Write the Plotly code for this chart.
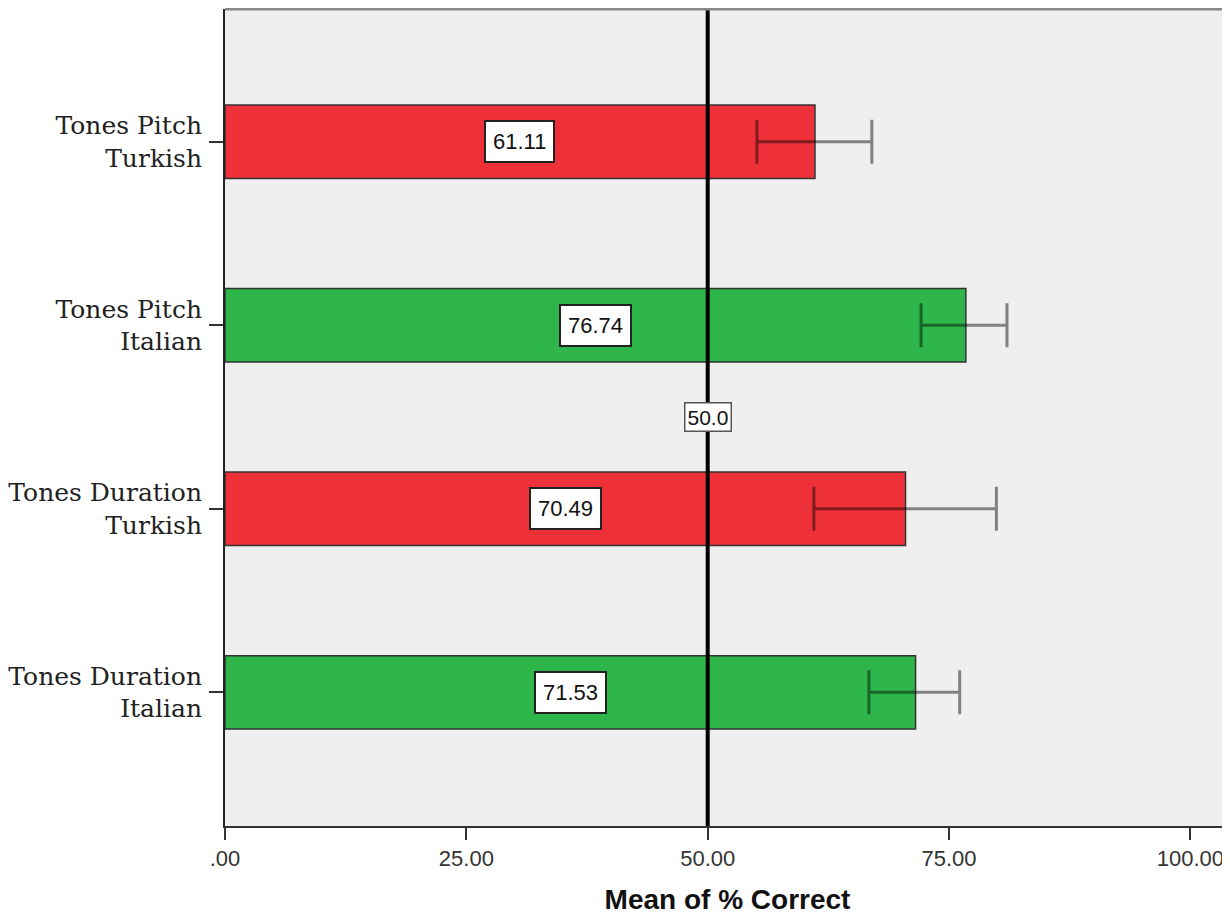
import plotly.graph_objects as go

categories = ["Tones Pitch<br>Turkish", "Tones Pitch<br>Italian",
              "Tones Duration<br>Turkish", "Tones Duration<br>Italian"]
means = [61.11, 76.74, 70.49, 71.53]
ci_low = [55.1, 72.1, 61.0, 66.7]
ci_high = [67.0, 81.0, 79.9, 76.1]
bar_colors = ["#EE3039", "#2FB64A", "#EE3039", "#2FB64A"]
x_tickvals = [0, 25, 50, 75, 100]
x_ticktext = [".00", "25.00", "50.00", "75.00", "100.00"]
ref_value = 50.0

positions = [3, 2, 1, 0]

fig = go.Figure()
fig.add_trace(go.Bar(
    x=means, y=positions, orientation="h", width=0.4,
    marker=dict(color=bar_colors, line=dict(color="#333333", width=1.5)),
    error_x=dict(type="data", symmetric=False,
                 array=[h - m for h, m in zip(ci_high, means)],
                 arrayminus=[m - l for m, l in zip(means, ci_low)],
                 color="rgba(0,0,0,0.46)", thickness=3, width=22),
    showlegend=False, hoverinfo="skip",
))

# reference line
fig.add_shape(type="line", xref="x", yref="paper", x0=ref_value, x1=ref_value,
              y0=0, y1=1, line=dict(color="black", width=4), layer="above")
# top border
fig.add_shape(type="line", xref="paper", yref="paper", x0=0, x1=1, y0=1, y1=1,
              line=dict(color="#888888", width=3), layer="above")

for m, p in zip(means, positions):
    fig.add_annotation(x=m / 2, y=p, xref="x", yref="y", text=f"{m:.2f}",
                       showarrow=False, bgcolor="white", bordercolor="#222222",
                       borderwidth=2, borderpad=7,
                       font=dict(family="Liberation Sans, Arial", size=22, color="#111111"))

fig.add_annotation(x=ref_value, y=1.5, xref="x", yref="y", text=f"{ref_value:.1f}",
                   showarrow=False, bgcolor="white", bordercolor="#555555",
                   borderwidth=1.5, borderpad=2,
                   font=dict(family="Liberation Sans, Arial", size=21, color="#111111"))

fig.update_layout(
    width=1222, height=907,
    margin=dict(l=211, r=0, t=1, b=87),
    paper_bgcolor="white", plot_bgcolor="#EFEFEF",
    xaxis=dict(range=[0, 104.1], tickvals=x_tickvals, ticktext=x_ticktext,
               showgrid=False, zeroline=False, ticks="outside", ticklen=12,
               tickwidth=2, tickcolor="#333333", showline=True, linecolor="#333333",
               linewidth=2,
               tickfont=dict(family="Liberation Sans, Arial", size=22, color="#333333"),
               title=dict(text="<b>Mean of % Correct</b>", standoff=24,
                          font=dict(family="Liberation Sans, Arial", size=28, color="#111111"))),
    yaxis=dict(range=[-0.728, 3.723], tickvals=positions, ticktext=categories,
               showgrid=False, zeroline=False, ticks="outside", ticklen=14,
               tickwidth=2, tickcolor="#333333", showline=True, linecolor="#222222",
               linewidth=2, ticklabelstandoff=2,
               tickfont=dict(family="DejaVu Serif", size=25, color="#222222")),
)

fig.write_html("out.html")
